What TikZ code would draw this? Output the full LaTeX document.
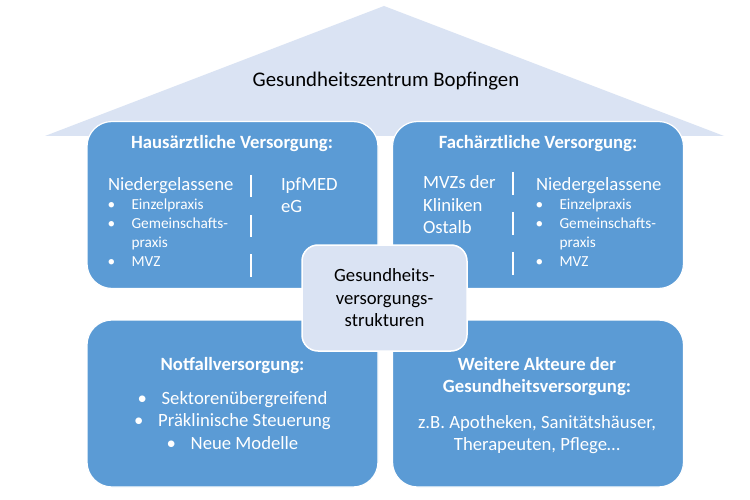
\documentclass[tikz,border=0pt]{standalone}
\usepackage{fontspec}
\setmainfont{Carlito}
\usetikzlibrary{positioning}
\definecolor{boxblue}{RGB}{91,155,213}
\definecolor{roofblue}{RGB}{218,227,243}

\begin{document}
\begin{tikzpicture}[x=1pt,y=-1pt,
    area/.style={draw=white,line width=1.2pt,fill=boxblue,rounded corners=25pt,
      minimum width=291pt,minimum height=167pt},
    hub/.style={draw=white,line width=1.5pt,fill=roofblue,rounded corners=16pt,
      minimum width=165pt,minimum height=106pt,align=center,
      font=\fontsize{18.7}{22.5}\selectfont},
    head/.style={text=white,font=\bfseries\fontsize{18.7}{22.5}\selectfont,anchor=base},
    big/.style={text=white,font=\fontsize{18.7}{22.5}\selectfont,anchor=base west},
    mid/.style={text=white,font=\fontsize{18.7}{22.8}\selectfont,anchor=base},
    small/.style={text=white,font=\fontsize{15.3}{19}\selectfont,anchor=base west},
    bar/.style={draw=white,line width=1.6pt}]

    % page and roof
    \fill[white] (0,0) rectangle (750,500);
    \fill[roofblue] (45,136) -- (384,6) -- (724,136) -- cycle;
    \node (roof) [font=\fontsize{20.8}{25}\selectfont,anchor=base] at (386,87) {Gesundheitszentrum Bopfingen};

    % the four areas
    \node (haus) [area] at (232.5,205) {};
    \node (fach) [area] at (538,205) {};
    \node (not) [area] at (232.5,403.5) {};
    \node (akt) [area] at (538,403.5) {};

    % Hausaerztliche Versorgung
    \node (hausT) [head] at (232,149) {Hausärztliche Versorgung:};
    \node (hausN) [big] at (104.5,190) {Niedergelassene};
    \node (hausL) [small] at (104,209) {\begin{tabular}[t]{@{}p{24pt}@{}l@{}}
        \textbullet & Einzelpraxis\\
        \textbullet & Gemeinschafts-\\
                    & praxis\\
        \textbullet & MVZ
      \end{tabular}};
    \node (ipf) [big] at (277.5,190) {\begin{tabular}[t]{@{}l@{}}IpfMED\\eG\end{tabular}};
    \draw[bar] (251,175) -- (251,197) (251,215) -- (251,237) (251,254) -- (251,277);

    % Fachaerztliche Versorgung
    \node (fachT) [head] at (538,149) {Fachärztliche Versorgung:};
    \node (kli) [big] at (419.5,189) {\begin{tabular}[t]{@{}l@{}}MVZs der\\Kliniken\\Ostalb\end{tabular}};
    \node (fachN) [big] at (532.5,190) {Niedergelassene};
    \node (fachL) [small] at (532,209) {\begin{tabular}[t]{@{}p{24pt}@{}l@{}}
        \textbullet & Einzelpraxis\\
        \textbullet & Gemeinschafts-\\
                    & praxis\\
        \textbullet & MVZ
      \end{tabular}};
    \draw[bar] (513,172) -- (513,195) (513,212) -- (513,235) (513,252) -- (513,275);

    % Notfallversorgung
    \node (notT) [head] at (232.5,370) {Notfallversorgung:};
    \node (notL) [mid] at (232.5,404) {\begin{tabular}[t]{@{}c@{}}
        \makebox[24pt][l]{\textbullet}Sektorenübergreifend\\
        \makebox[24pt][l]{\textbullet}Präklinische Steuerung\\
        \makebox[24pt][l]{\textbullet}Neue Modelle
      \end{tabular}};

    % weitere Akteure
    \node (aktT) [head] at (537,370) {\begin{tabular}[t]{@{}c@{}}Weitere Akteure der\\Gesundheitsversorgung:\end{tabular}};
    \node (aktL) [mid] at (537,428) {\begin{tabular}[t]{@{}c@{}}z.B. Apotheken, Sanitätshäuser,\\Therapeuten, Pflege…\end{tabular}};

    % centre
    \node (hub) [hub] at (384.5,298) {Gesundheits-\\versorgungs-\\strukturen};
\end{tikzpicture}
\end{document}
